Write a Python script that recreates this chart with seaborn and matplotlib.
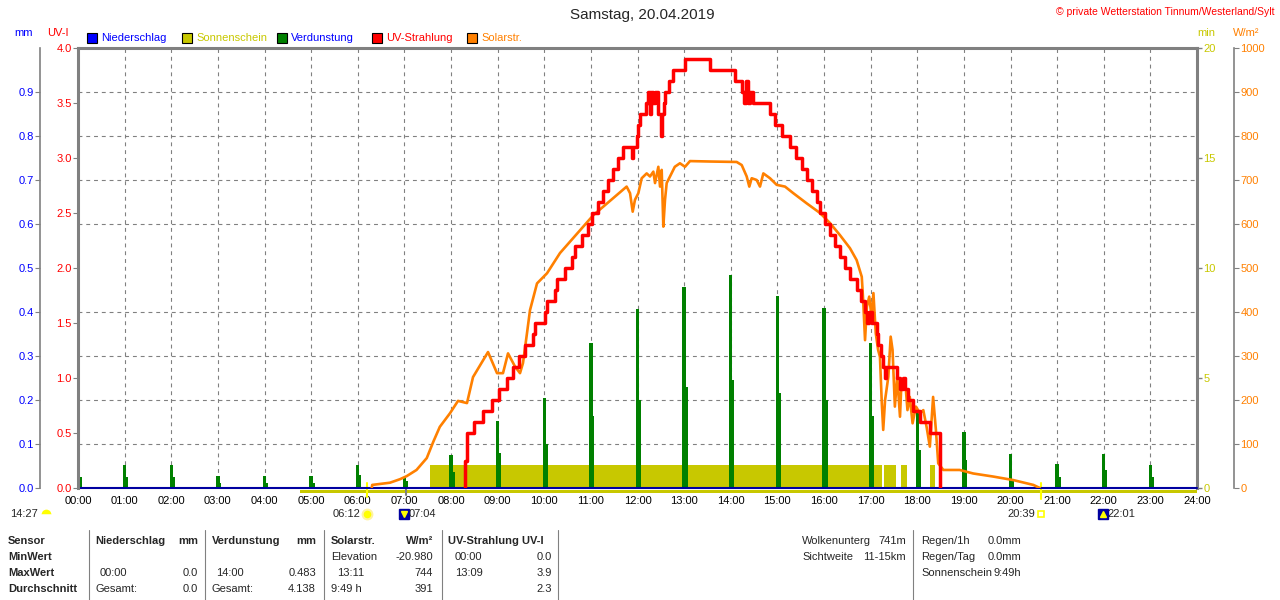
import numpy as np
import matplotlib
matplotlib.use("Agg")
import matplotlib.pyplot as plt
import matplotlib.transforms as mtransforms
from matplotlib.lines import Line2D
from matplotlib.patches import Rectangle
import seaborn as sns

# Tageswerte
stunden = list(range(25))
stunden_labels = [f"{h:02d}:00" for h in stunden]

uv_zeit = [8.300, 8.305, 8.336, 8.493, 8.693, 8.872, 9.029, 9.194, 9.337, 9.458,
           9.587, 9.766, 9.802, 10.016, 10.052, 10.231, 10.266, 10.445, 10.588, 10.660,
           10.803, 10.946, 11.017, 11.160, 11.267, 11.374, 11.482, 11.589, 11.696, 11.875,
           11.911, 11.982, 12.020, 12.060, 12.190, 12.230, 12.260, 12.300, 12.340, 12.380,
           12.450, 12.500, 12.530, 12.560, 12.600, 12.680, 12.770, 13.020, 13.560, 14.100,
           14.240, 14.290, 14.330, 14.380, 14.420, 14.470, 14.840, 14.950, 15.090, 15.270,
           15.410, 15.520, 15.630, 15.740, 15.840, 15.910, 16.020, 16.130, 16.230, 16.340,
           16.450, 16.560, 16.700, 16.800, 16.880, 16.920, 16.960, 17.030, 17.130, 17.160,
           17.230, 17.270, 17.300, 17.340, 17.560, 17.630, 17.700, 17.740, 17.810, 17.910,
           18.060, 18.270, 18.490]
uv_wert = [0.0, 0.25, 0.5, 0.6, 0.7, 0.8, 0.9, 1.0, 1.1, 1.2,
           1.3, 1.4, 1.5, 1.6, 1.7, 1.8, 1.9, 2.0, 2.1, 2.2,
           2.3, 2.4, 2.5, 2.6, 2.7, 2.8, 2.9, 3.0, 3.1, 3.0,
           3.1, 3.2, 3.3, 3.4, 3.5, 3.6, 3.4, 3.6, 3.5, 3.6,
           3.4, 3.2, 3.4, 3.5, 3.6, 3.7, 3.8, 3.9, 3.8, 3.7,
           3.6, 3.5, 3.7, 3.5, 3.6, 3.5, 3.4, 3.3, 3.2, 3.1,
           3.0, 2.9, 2.8, 2.7, 2.6, 2.5, 2.4, 2.3, 2.2, 2.1,
           2.0, 1.9, 1.8, 1.7, 1.6, 1.5, 1.6, 1.5, 1.4, 1.3,
           1.2, 1.1, 1.0, 1.1, 1.0, 0.9, 1.0, 0.9, 0.8, 0.7,
           0.6, 0.5, 0.0]

solar_zeit = [6.30, 6.31, 6.69, 6.906, 7.05, 7.26, 7.48, 7.62, 7.76, 7.979,
              8.150, 8.343, 8.472, 8.794, 8.987, 9.115, 9.223, 9.373, 9.480, 9.544,
              9.630, 9.694, 9.845, 10.059, 10.338, 11.052, 11.767, 11.840, 11.897, 11.946,
              12.018, 12.090, 12.197, 12.268, 12.340, 12.376, 12.447, 12.483, 12.519, 12.554,
              12.590, 12.626, 12.697, 12.800, 12.910, 13.019, 13.126, 13.555, 14.127, 14.235,
              14.342, 14.398, 14.449, 14.556, 14.627, 14.699, 14.842, 14.985, 15.164, 15.342,
              15.628, 15.914, 16.130, 16.340, 16.557, 16.700, 16.810, 16.840, 16.880, 16.920,
              16.970, 17.020, 17.060, 17.110, 17.160, 17.200, 17.240, 17.270, 17.310, 17.380,
              17.430, 17.470, 17.520, 17.570, 17.630, 17.660, 17.740, 17.790, 17.840, 17.900,
              17.970, 18.060, 18.130, 18.200, 18.270, 18.340, 18.400, 18.450, 18.560, 18.910,
              19.200, 19.630, 20.060, 20.490, 20.630]
solar_wert = [0, 7, 12, 20, 27, 41, 68, 105, 139, 170,
              198, 193, 252, 309, 261, 261, 306, 276, 261, 284,
              352, 404, 465, 488, 534, 620, 685, 670, 628, 655,
              670, 704, 715, 708, 719, 693, 730, 685, 723, 594,
              655, 693, 708, 730, 738, 730, 743, 742, 741, 734,
              708, 685, 704, 700, 685, 715, 704, 689, 685, 670,
              647, 625, 602, 575, 545, 518, 480, 427, 336, 412,
              435, 389, 443, 352, 314, 298, 192, 132, 200, 253,
              344, 314, 185, 253, 162, 238, 245, 177, 207, 147,
              185, 170, 177, 139, 94, 207, 132, 56, 41, 41,
              33, 26, 18, 7, 0]

verd_stunde = list(range(24))
verd_haupt = [0.052, 0.052, 0.052, 0.027, 0.027, 0.027, 0.052, 0.025, 0.075, 0.152, 0.205, 0.330,
              0.407, 0.457, 0.483, 0.436, 0.409, 0.330, 0.177, 0.127, 0.077, 0.055, 0.077, 0.052]
verd_neben = [0.025, 0.025, 0.025, 0.012, 0.012, 0.012, 0.030, 0.015, 0.036, 0.080, 0.100, 0.164,
              0.200, 0.230, 0.245, 0.215, 0.200, 0.164, 0.086, 0.064, 0.018, 0.025, 0.040, 0.025]

sonne_start = [7.55, 17.29, 17.66, 18.27]
sonne_ende = [17.24, 17.54, 17.77, 18.37]
sonne_min = [1.05, 1.05, 1.05, 1.05]

tag_start = [4.77]
tag_ende = [24.0]

nieder_zeit = [0.0, 24.0]
nieder_mm = [0.0, 0.0]

ereignis_zeit = [6.20, 7.04, 20.65, 22.017]
ereignis_text = ["06:12", "07:04", "20:39", "22:01"]

ROT = "#ff0000"
ORANGE = "#ff8000"
GRUEN = "#008000"
OLIV = "#c8c800"
BLAU = "#0000ff"
NAVY = "#0000a0"
GRAU = "#808080"
PT = 72 / 100  # Pixel -> Punkt


def px(x, y):
    return x / 1280, 1 - y / 600


sns.set_style("white")
plt.rcParams["font.family"] = ["Liberation Sans", "DejaVu Sans"]
plt.rcParams["font.size"] = 8

fig = plt.figure(figsize=(12.8, 6), dpi=100)
ax = fig.add_axes([78 / 1280, 112 / 600, 1119 / 1280, 440 / 600])

ax_mm = ax.twinx()
ax_w = ax.twinx()
ax_uv = ax.twinx()

# Sonnenschein (Basisachse, min)
ax.bar(x=sonne_start, width=np.array(sonne_ende) - np.array(sonne_start), height=sonne_min,
       align="edge", color=OLIV, lw=0)
ax.bar(x=tag_start, width=np.array(tag_ende) - np.array(tag_start), bottom=-0.07, height=-0.14,
       align="edge", color=OLIV, lw=0, clip_on=False)
ax.set_xlim(0, 24)
ax.set_ylim(0, 20)
ax.yaxis.tick_right()
ax.set_yticks([0, 5, 10, 15, 20])
ax.set_yticks(np.arange(2, 20, 2), minor=True)
ax.tick_params(axis="y", which="major", colors=GRAU, labelcolor=OLIV, length=5 * PT,
               width=1, pad=1, labelsize=8)
ax.tick_params(axis="y", which="minor", length=0)
ax.set_xticks(stunden)
ax.set_xticklabels(stunden_labels)
ax.tick_params(axis="x", length=0, pad=6, labelsize=8, labelcolor="black")
ax.grid(which="minor", axis="y", color=GRAU, lw=0.8, ls=(0, (3.5, 3.5)))
ax.grid(which="major", axis="x", color=GRAU, lw=0.8, ls=(0, (3.5, 3.5)))
ax.set_axisbelow(True)
for s in ["left", "bottom"]:
    ax.spines[s].set_visible(False)
for s in ["top", "right"]:
    ax.spines[s].set_color(GRAU)
    ax.spines[s].set_linewidth(2.2)

# Verdunstung + Niederschlag (mm)
ax_mm.bar(x=verd_stunde, height=verd_haupt, width=0.07, color=GRUEN, lw=0)
ax_mm.bar(x=np.array(verd_stunde) + 0.055, height=verd_neben, width=0.045, color=GRUEN, lw=0)
sns.lineplot(x=nieder_zeit, y=nieder_mm, ax=ax_mm, color=NAVY, lw=1.5, clip_on=False)
ax_mm.set_ylim(0, 1.0)
ax_mm.yaxis.tick_left()
ax_mm.set_yticks(np.arange(0, 1.0, 0.1))
ax_mm.set_yticklabels([f"{v:.1f}" for v in np.arange(0, 1.0, 0.1)])
ax_mm.tick_params(axis="y", colors=GRAU, labelcolor=BLAU, length=5 * PT, pad=1, labelsize=8)
for s in ["top", "bottom", "right"]:
    ax_mm.spines[s].set_visible(False)
ax_mm.spines["left"].set_position(("outward", 38 * PT))
ax_mm.spines["left"].set_color(GRAU)
ax_mm.spines["left"].set_linewidth(1.2)

# Solarstrahlung (W/m²)
sns.lineplot(x=solar_zeit, y=solar_wert, ax=ax_w, color=ORANGE, lw=1.9)
ax_w.set_ylim(0, 1000)
ax_w.set_yticks(np.arange(0, 1001, 100))
ax_w.tick_params(axis="y", colors=GRAU, labelcolor=ORANGE, length=5 * PT, pad=1, labelsize=8)
for s in ["top", "bottom", "left"]:
    ax_w.spines[s].set_visible(False)
ax_w.spines["right"].set_position(("outward", 37 * PT))
ax_w.spines["right"].set_color(GRAU)
ax_w.spines["right"].set_linewidth(1.2)

# UV-Strahlung (UV-I)
sns.lineplot(x=uv_zeit, y=uv_wert, ax=ax_uv, color=ROT, lw=2.5, drawstyle="steps-post")
ax_uv.set_ylim(0, 4)
ax_uv.yaxis.tick_left()
ax_uv.set_yticks(np.arange(0, 4.01, 0.5))
ax_uv.set_yticklabels([f"{v:.1f}" for v in np.arange(0, 4.01, 0.5)])
ax_uv.tick_params(axis="y", colors=GRAU, labelcolor=ROT, length=5 * PT, pad=1, labelsize=8)
for s in ["top", "bottom", "right"]:
    ax_uv.spines[s].set_visible(False)
ax_uv.spines["left"].set_color(GRAU)
ax_uv.spines["left"].set_linewidth(2.2)

ax.yaxis.tick_right()
for a in [ax, ax_mm, ax_w, ax_uv]:
    a.set_xlabel("")
    a.set_ylabel("")
ax.set_xlim(0, 24)

# Sonnenauf-/untergang, Mond
ax.plot([ereignis_zeit[0]] * 2, [0.25, -0.42], color="#ffff00", lw=1.5, clip_on=False)
ax.plot([ereignis_zeit[1]] * 2, [0.0, -0.32], color=GRAU, lw=1.5, clip_on=False)
ax.plot([ereignis_zeit[2]] * 2, [0.25, -0.5], color="#ffff00", lw=1.5, clip_on=False)

blend = mtransforms.blended_transform_factory(ax.transData, fig.transFigure)
y_ev = px(0, 514)[1]
ax.plot(ereignis_zeit[0], y_ev, transform=blend, marker="o", ms=7, color="#ffff00",
        mec="#fff3a0", mew=1.5, clip_on=False)
ax.annotate(ereignis_text[0], (ereignis_zeit[0], y_ev), xycoords=blend, xytext=(-5, 0),
            textcoords="offset points", ha="right", va="center", fontsize=8)
ax.plot(ereignis_zeit[1] - 0.04, y_ev, transform=blend, marker="s", ms=7, color=NAVY, clip_on=False)
ax.plot(ereignis_zeit[1] - 0.04, y_ev, transform=blend, marker="v", ms=4, color="#ffff00", clip_on=False)
ax.annotate(ereignis_text[1], (ereignis_zeit[1], y_ev), xycoords=blend, xytext=(2, 0),
            textcoords="offset points", ha="left", va="center", fontsize=8)
ax.plot(ereignis_zeit[2], y_ev, transform=blend, marker="s", ms=5, mfc="none", mec="#ffff00",
        mew=1.2, clip_on=False)
ax.annotate(ereignis_text[2], (ereignis_zeit[2], y_ev), xycoords=blend, xytext=(-4, 0),
            textcoords="offset points", ha="right", va="center", fontsize=8)
ax.plot(ereignis_zeit[3] - 0.04, y_ev, transform=blend, marker="s", ms=7, color=NAVY, clip_on=False)
ax.plot(ereignis_zeit[3] - 0.04, y_ev, transform=blend, marker="^", ms=4, color="#ffff00", clip_on=False)
ax.annotate(ereignis_text[3], (ereignis_zeit[3], y_ev), xycoords=blend, xytext=(2, 0),
            textcoords="offset points", ha="left", va="center", fontsize=8)
fig.text(*px(10, 514), "14:27", ha="left", va="center", fontsize=8)
fig.add_artist(Line2D([px(46, 0)[0]], [y_ev], marker="o", ms=7, color="#ffff00",
                      fillstyle="top", markerfacecoloralt="white", mec="none",
                      transform=fig.transFigure))

# Kopfzeile
fig.text(*px(642, 15), "Samstag, 20.04.2019", ha="center", va="center", fontsize=11)
fig.text(*px(1275, 12), "© private Wetterstation Tinnum/Westerland/Sylt", ha="right",
         va="center", fontsize=7.5, color=ROT)
fig.text(*px(14, 33), "mm", ha="left", va="center", color=BLAU)
fig.text(*px(47, 33), "UV-I", ha="left", va="center", color=ROT)
fig.text(*px(1197, 33), "min", ha="left", va="center", color=OLIV)
fig.text(*px(1233, 33), "W/m²", ha="left", va="center", color=ORANGE)

legende = [("Niederschlag", BLAU, BLAU), ("Sonnenschein", OLIV, OLIV),
           ("Verdunstung", GRUEN, BLAU), ("UV-Strahlung", ROT, ROT), ("Solarstr.", ORANGE, ORANGE)]
for i, (name, farbe, textfarbe) in enumerate(legende):
    x0 = 87 + 95 * i
    fig.add_artist(Rectangle(px(x0, 43), 10 / 1280, 10 / 600, transform=fig.transFigure,
                             facecolor=farbe, edgecolor="black", lw=0.8))
    fig.text(*px(x0 + 14, 38), name, ha="left", va="center", color=textfarbe)

# Tabelle unten
zeilen_y = [541, 557, 573, 589]
kopf = [("Sensor", 8, "left"), ("Niederschlag", 95, "left"), ("mm", 198, "right"),
        ("Verdunstung", 212, "left"), ("mm", 316, "right"), ("Solarstr.", 331, "left"),
        ("W/m²", 433, "right"), ("UV-Strahlung UV-I", 448, "left")]
for txt, x, ha in kopf:
    fig.text(*px(x, zeilen_y[0]), txt, ha=ha, va="center", fontweight="bold")
for txt, y in zip(["MinWert", "MaxWert", "Durchschnitt"], zeilen_y[1:]):
    fig.text(*px(8, y), txt, ha="left", va="center", fontweight="bold")

werte = [
    [("Elevation", 331, "left"), ("-20.980", 433, "right"), ("00:00", 455, "left"), ("0.0", 552, "right")],
    [("00:00", 100, "left"), ("0.0", 198, "right"), ("14:00", 216, "left"), ("0.483", 316, "right"),
     ("13:11", 337, "left"), ("744", 433, "right"), ("13:09", 455, "left"), ("3.9", 552, "right")],
    [("Gesamt:", 95, "left"), ("0.0", 198, "right"), ("Gesamt:", 212, "left"), ("4.138", 316, "right"),
     ("9:49 h", 331, "left"), ("391", 433, "right"), ("2.3", 552, "right")],
]
for zeile, y in zip(werte, zeilen_y[1:]):
    for txt, x, ha in zeile:
        fig.text(*px(x, y), txt, ha=ha, va="center")

rechts = [("Wolkenunterg", 802, 541, "left"), ("741m", 906, 541, "right"),
          ("Sichtweite", 802, 557, "left"), ("11-15km", 906, 557, "right"),
          ("Regen/1h", 921, 541, "left"), ("0.0mm", 1021, 541, "right"),
          ("Regen/Tag", 921, 557, "left"), ("0.0mm", 1021, 557, "right"),
          ("Sonnenschein", 921, 573, "left"), ("9:49h", 1021, 573, "right")]
for txt, x, y, ha in rechts:
    fig.text(*px(x, y), txt, ha=ha, va="center")

for x in [89, 205, 324, 442, 558, 913]:
    fig.add_artist(Line2D([x / 1280] * 2, [px(0, 530)[1], 0], color=GRAU, lw=0.8,
                          transform=fig.transFigure))

fig.savefig("out.png", dpi=100, facecolor="white")
